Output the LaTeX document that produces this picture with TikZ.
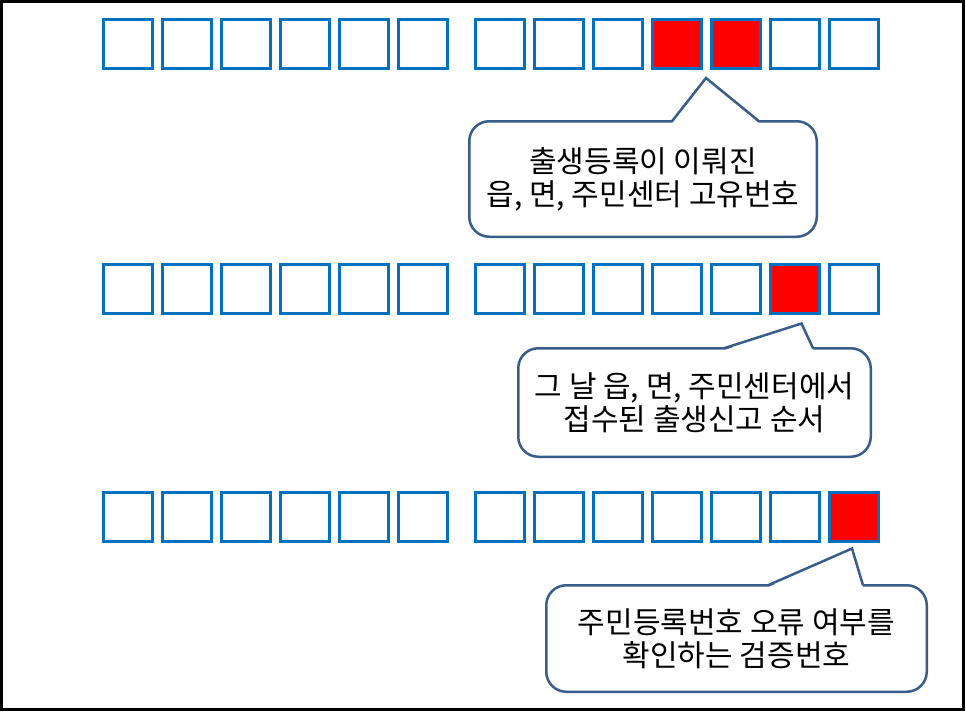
\documentclass[tikz,border=0pt]{standalone}
\usepackage{fontspec}
\setmainfont{Noto Sans CJK KR}
\usetikzlibrary{calc}
\definecolor{cellblue}{RGB}{0,112,192}
\definecolor{cellred}{RGB}{255,0,0}
\definecolor{bubbleline}{RGB}{56,93,138}
\tikzset{
  cell/.style={draw=cellblue,line width=3pt,fill=white,minimum size=49pt,inner sep=0pt},
  hotcell/.style={cell,fill=cellred},
  bubble/.style={draw=bubbleline,line width=2.5pt,fill=white,rounded corners=20pt,
                 align=center,inner sep=0pt,font=\fontsize{30}{33}\selectfont},
  beak/.style={draw=bubbleline,line width=2.5pt,line join=miter},
}
\begin{document}
\begin{tikzpicture}[x=1pt,y=-1pt]
  \useasboundingbox (0,0) rectangle (966,712);
  \draw[line width=3pt] (1.5,1.5) rectangle (963,709.5);
  % --- three rows of 6+7 cells, marked digits in red
  \foreach \r/\y/\lo/\hi in {1/44/10/11,2/288.5/12/12,3/516.5/13/13}{
    \foreach \c in {1,...,13}{
      \pgfmathsetmacro\x{128+59*(\c-1)+17.5*(\c>6)}
      \pgfmathtruncatemacro\hot{and(\c>(\lo-1),\c<(\hi+1))}
      \ifnum\hot=1
        \node[hotcell] (b-\r-\c) at (\x,\y) {};
      \else
        \node[cell] (b-\r-\c) at (\x,\y) {};
      \fi}}
  % --- callout 1 : office code
  \node[bubble,minimum width=347.5pt,minimum height=115.5pt] (c1) at (643,179)
    {출생등록이 이뤄진\\읍, 면, 주민센터 고유번호};
  \coordinate (t1) at ($(b-1-10.south east)!.5!(b-1-11.south west)+(0,8)$);
  \coordinate (l1) at ($(c1.north west)+(204,1.25)$);
  \coordinate (r1) at ($(c1.north west)+(291,1.25)$);
  \fill[white] ($(l1)+(0,2)$) -- (t1) -- ($(r1)+(0,2)$) -- cycle;
  \draw[beak] (l1) -- (t1) -- (r1);
  % --- callout 2 : order of the day
  \node[bubble,minimum width=352.5pt,minimum height=108.5pt] (c2) at (694.5,402.5)
    {그 날 읍, 면, 주민센터에서\\접수된 출생신고 순서};
  \coordinate (t2) at ($(b-2-12.south)+(7,9)$);
  \coordinate (l2) at ($(c2.north west)+(207,1.25)$);
  \coordinate (r2) at ($(c2.north west)+(296,1.25)$);
  \fill[white] ($(l2)+(0,2)$) -- (t2) -- ($(r2)+(0,2)$) -- cycle;
  \draw[beak] (l2) -- (t2) -- (r2);
  % --- callout 3 : check digit
  \node[bubble,minimum width=380.5pt,minimum height=106.5pt] (c3) at (736.5,638.5)
    {주민등록번호 오류 여부를\\확인하는 검증번호};
  \coordinate (t3) at ($(b-3-13.south)+(-1.5,6)$);
  \coordinate (l3) at ($(c3.north west)+(223,1.25)$);
  \coordinate (r3) at ($(c3.north west)+(318,1.25)$);
  \fill[white] ($(l3)+(0,2)$) -- (t3) -- ($(r3)+(0,2)$) -- cycle;
  \draw[beak] (l3) -- (t3) -- (r3);
\end{tikzpicture}
\end{document}
